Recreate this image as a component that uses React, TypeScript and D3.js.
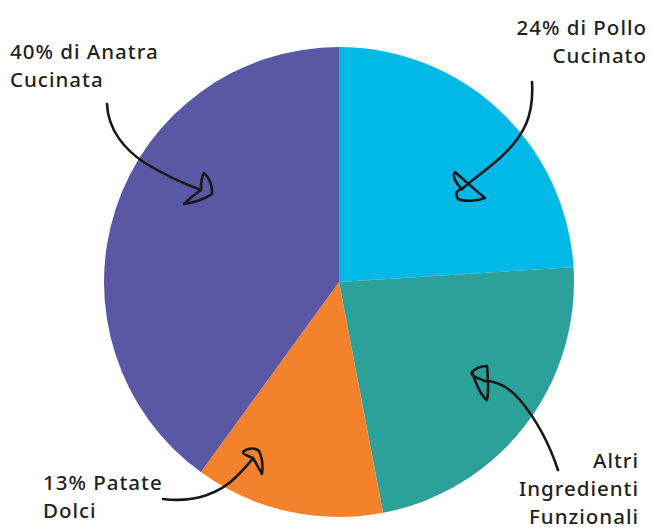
import { useEffect, useRef } from 'react';
import * as d3 from 'd3';

// slice order, clockwise from 12 o'clock
const categories = ['Pollo Cucinato', 'Altri Ingredienti Funzionali', 'Patate Dolci', 'Anatra Cucinata'];
const shares = [24, 23, 13, 40];
const colors = ['#00b9e7', '#2ba199', '#f4812b', '#5a57a4'];

// label lines per slice
const labelLines = [
  ['24% di Pollo', 'Cucinato'],
  ['Altri', 'Ingredienti', 'Funzionali'],
  ['13% Patate', 'Dolci'],
  ['40% di Anatra', 'Cucinata'],
];

const W = 651;
const H = 530;

export default function App() {
  const ref = useRef<SVGSVGElement | null>(null);

  useEffect(() => {
    if (!ref.current) return;
    const svg = d3.select(ref.current);
    svg.selectAll('*').remove();

    const cx = 339;
    const cy = 282;
    const radius = 235;

    const data = categories.map((c, i) => ({ name: c, value: shares[i], color: colors[i] }));

    const pie = d3.pie<any>().value(d => d.value).sort(null);
    const arc = d3.arc<any>().innerRadius(0).outerRadius(radius);

    const g = svg.append('g').attr('transform', `translate(${cx},${cy})`);
    g.selectAll('path')
      .data(pie(data))
      .enter()
      .append('path')
      .attr('d', arc)
      .attr('fill', d => d.data.color);

    // labels
    const labelPos = [
      { x: 647, y: 35, anchor: 'end' },
      { x: 639, y: 468, anchor: 'end' },
      { x: 43, y: 490, anchor: 'start' },
      { x: 10, y: 59, anchor: 'start' },
    ];
    const lineH = 28;
    labelLines.forEach((lines, i) => {
      const p = labelPos[i];
      const t = svg.append('text')
        .attr('x', p.x)
        .attr('y', p.y)
        .attr('text-anchor', p.anchor)
        .style('font-family', '"Noto Sans", sans-serif')
        .style('font-size', '20.5px')
        .style('font-weight', 500)
        .style('letter-spacing', '1px')
        .style('fill', '#231f20');
      lines.forEach((ln, j) => {
        t.append('tspan').attr('x', p.x).attr('y', p.y + j * lineH).text(ln);
      });
    });

    // hand-drawn annotation arrows
    const arrows = [
      // Pollo
      {
        line: 'M532,82 C534,115 525,135 500,158 C485,171 472,180 462,189',
        head: 'M462,189 C456,184 452,176 455,172 C462,178 475,190 485,198 C477,201 464,202 458,199 C455,194 456,190 462,189',
      },
      // Altri
      {
        line: 'M558,470 C548,440 535,418 520,400 C508,386 497,381 485,381',
        head: 'M485,381 C478,378 470,376 472,372 C476,368 482,366 487,366 C488,378 489,392 487,400 C481,396 476,384 472,372',
      },
      // Patate
      {
        line: 'M163,499 C195,503 220,493 236,477 C244,469 249,464 253,458',
        head: 'M253,458 C249,456 243,455 243,452 C247,448 255,447 259,451 C262,457 263,466 262,474 C259,469 256,463 253,458',
      },
      // Anatra
      {
        line: 'M107,104 C108,130 125,150 145,163 C163,174 182,183 201,190',
        head: 'M201,190 C201,183 201,177 204,173 C209,177 213,186 212,194 C205,199 193,203 184,204 C189,199 195,194 201,190',
      },
    ];
    arrows.forEach(a => {
      svg.append('path')
        .attr('d', a.line)
        .attr('fill', 'none')
        .attr('stroke', '#1a1718')
        .attr('stroke-width', 2.6)
        .attr('stroke-linecap', 'round');
      svg.append('path')
        .attr('d', a.head)
        .attr('fill', 'none')
        .attr('stroke', '#1a1718')
        .attr('stroke-width', 2.6)
        .attr('stroke-linejoin', 'round')
        .attr('stroke-linecap', 'round');
    });
  }, []);

  return (
    <div style={{ position: 'absolute', left: 0, top: 0, width: W, height: H, background: '#fff' }}>
      <svg ref={ref} width={W} height={H} style={{ display: 'block' }} />
    </div>
  );
}
